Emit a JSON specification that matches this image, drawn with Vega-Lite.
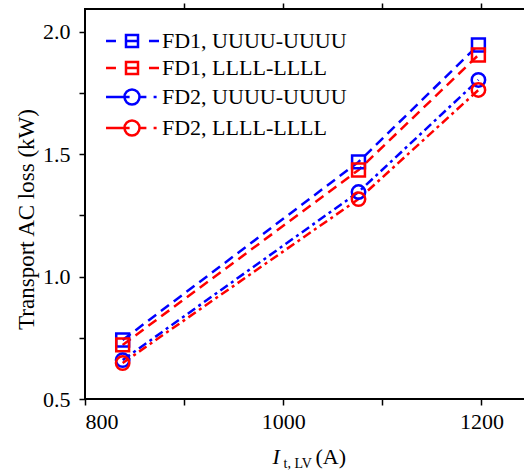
{
  "$schema": "https://vega.github.io/schema/vega-lite/v6.json",
  "autosize": "none",
  "padding": {"left": 85, "top": 9, "right": 0, "bottom": 71},
  "width": 440,
  "height": 390,
  "background": "white",
  "config": {
    "view": {"stroke": "black", "strokeWidth": 2},
    "font": "Liberation Serif"
  },
  "data": {"values": [
    {"I": 838, "loss": 0.741, "series": "FD1, UUUU-UUUU", "fd": "FD1"},
    {"I": 1076, "loss": 1.469, "series": "FD1, UUUU-UUUU", "fd": "FD1"},
    {"I": 1197, "loss": 1.947, "series": "FD1, UUUU-UUUU", "fd": "FD1"},
    {"I": 838, "loss": 0.721, "series": "FD1, LLLL-LLLL", "fd": "FD1"},
    {"I": 1076, "loss": 1.436, "series": "FD1, LLLL-LLLL", "fd": "FD1"},
    {"I": 1197, "loss": 1.906, "series": "FD1, LLLL-LLLL", "fd": "FD1"},
    {"I": 838, "loss": 0.659, "series": "FD2, UUUU-UUUU", "fd": "FD2"},
    {"I": 1076, "loss": 1.346, "series": "FD2, UUUU-UUUU", "fd": "FD2"},
    {"I": 1197, "loss": 1.804, "series": "FD2, UUUU-UUUU", "fd": "FD2"},
    {"I": 838, "loss": 0.647, "series": "FD2, LLLL-LLLL", "fd": "FD2"},
    {"I": 1076, "loss": 1.317, "series": "FD2, LLLL-LLLL", "fd": "FD2"},
    {"I": 1197, "loss": 1.763, "series": "FD2, LLLL-LLLL", "fd": "FD2"}
  ]},
  "resolve": {"axis": {"x": "independent", "y": "independent"}},
  "layer": [
    {
      "transform": [{"filter": "datum.fd == 'FD1'"}],
      "mark": {"type": "line", "strokeWidth": 2.5, "strokeDash": [10, 6]},
      "encoding": {
        "x": {"field": "I", "type": "quantitative", "scale": {"domain": [800, 1244], "nice": false, "zero": false},
          "axis": {"orient": "bottom", "values": [800, 900, 1000, 1100, 1200], "format": "d", "domain": false, "grid": false,
            "labelExpr": "datum.value % 200 == 0 ? datum.label : ''",
            "labelFont": "Liberation Serif", "labelFontSize": 22, "labelColor": "black", "labelPadding": 6,
            "tickColor": "black", "tickWidth": 1.5, "tickSize": 6,
            "encode": {"ticks": {"update": {"y2": {"signal": "datum.value % 200 == 0 ? -11 : -6"}}}},
            "title": "I", "titleFont": "Liberation Serif", "titleFontSize": 22, "titleFontWeight": "normal", "titleFontStyle": "italic", "titleColor": "black",
            "titleAlign": "left", "titleBaseline": "alphabetic", "titleAnchor": null, "titleX": 187, "titleY": 64}},
        "y": {"field": "loss", "type": "quantitative", "scale": {"domain": [0.5, 2.094], "nice": false, "zero": false},
          "axis": {"orient": "left", "values": [0.5, 0.75, 1, 1.25, 1.5, 1.75, 2], "format": ".1f", "domain": false, "grid": false,
            "labelExpr": "datum.value * 2 % 1 == 0 ? datum.label : ''",
            "labelFont": "Liberation Serif", "labelFontSize": 22, "labelColor": "black", "labelPadding": 9,
            "tickColor": "black", "tickWidth": 1.5, "tickSize": 6,
            "encode": {"ticks": {"update": {"x2": {"signal": "datum.value * 2 % 1 == 0 ? 11 : 6"}}}},
            "title": "Transport AC loss (kW)", "titleFont": "Liberation Serif", "titleFontSize": 23, "titleFontWeight": "normal", "titleColor": "black",
            "titleAlign": "center", "titleBaseline": "alphabetic", "titleAngle": 270, "titleX": -52, "titleY": 210}},
        "color": {"field": "series", "type": "nominal", "scale": {"domain": ["FD1, UUUU-UUUU", "FD1, LLLL-LLLL", "FD2, UUUU-UUUU", "FD2, LLLL-LLLL"], "range": ["#0000ff", "#ff0000", "#0000ff", "#ff0000"]},
          "legend": {"title": null, "orient": "none", "legendX": 36, "legendY": 21, "padding": 0,
            "labelFont": "Liberation Serif", "labelFontSize": 22, "labelColor": "black", "labelOffset": 19, "labelLimit": 400,
            "symbolSize": 144, "symbolStrokeWidth": 2.5, "rowPadding": 5, "symbolType": "square",
            "encode": {"symbols": {"update": {
              "shape": {"signal": "indexof(datum.value, 'FD1') >= 0 ? 'M-4.33,0H-2.67M-1,-1H1V1H-1ZM-1,0H1M2.83,0H4.5' : 'M-4.33,0H-1.25M1.25,0A1.25,1.25,0,1,1,-1.25,0A1.25,1.25,0,1,1,1.25,0M-1.25,0H-0.4M1.25,0H2.4M3.6,0H4.1'"},
              "fill": {"value": "transparent"}, "strokeDash": {"value": []}}}}}},
        "detail": {"field": "series"}
      }
    },
    {
      "transform": [{"filter": "datum.fd == 'FD2'"}],
      "mark": {"type": "line", "strokeWidth": 2.5, "strokeDash": [9, 4, 3, 4]},
      "encoding": {
        "x": {"field": "I", "type": "quantitative",
          "axis": {"orient": "top", "values": [900, 1000, 1100, 1200], "labels": false, "title": null, "domain": false, "grid": false,
            "tickColor": "black", "tickWidth": 1.5, "tickSize": 6,
            "encode": {"ticks": {"update": {"y2": {"signal": "datum.value % 200 == 0 ? 11 : 6"}}}}}},
        "y": {"field": "loss", "type": "quantitative",
          "axis": {"orient": "right", "values": [0.5, 0.75, 1, 1.25, 1.5, 1.75, 2], "labels": false, "title": null, "domain": false, "grid": false,
            "tickColor": "black", "tickWidth": 1.5, "tickSize": 6,
            "encode": {"ticks": {"update": {"x2": {"signal": "datum.value * 2 % 1 == 0 ? -11 : -6"}}}}}},
        "color": {"field": "series", "type": "nominal"},
        "detail": {"field": "series"}
      }
    },
    {
      "transform": [{"filter": "datum.fd == 'FD1'"}],
      "mark": {"type": "point", "shape": "square", "filled": false, "strokeWidth": 2.5, "size": 165, "opacity": 1},
      "encoding": {
        "x": {"field": "I", "type": "quantitative",
          "axis": {"orient": "bottom", "ticks": false, "labels": false, "domain": false, "grid": false,
            "title": "t, LV", "titleFont": "Liberation Serif", "titleFontSize": 14, "titleFontWeight": "normal", "titleColor": "black",
            "titleAlign": "left", "titleBaseline": "alphabetic", "titleAnchor": null, "titleX": 198, "titleY": 68}},
        "y": {"field": "loss", "type": "quantitative", "axis": null},
        "color": {"field": "series", "type": "nominal"},
        "detail": {"field": "series"}
      }
    },
    {
      "transform": [{"filter": "datum.fd == 'FD2'"}],
      "mark": {"type": "point", "shape": "circle", "filled": false, "strokeWidth": 2.5, "size": 180, "opacity": 1},
      "encoding": {
        "x": {"field": "I", "type": "quantitative",
          "axis": {"orient": "bottom", "ticks": false, "labels": false, "domain": false, "grid": false,
            "title": "(A)", "titleFont": "Liberation Serif", "titleFontSize": 22, "titleFontWeight": "normal", "titleColor": "black",
            "titleAlign": "left", "titleBaseline": "alphabetic", "titleAnchor": null, "titleX": 230, "titleY": 64}},
        "y": {"field": "loss", "type": "quantitative", "axis": null},
        "color": {"field": "series", "type": "nominal"},
        "detail": {"field": "series"}
      }
    }
  ]
}
